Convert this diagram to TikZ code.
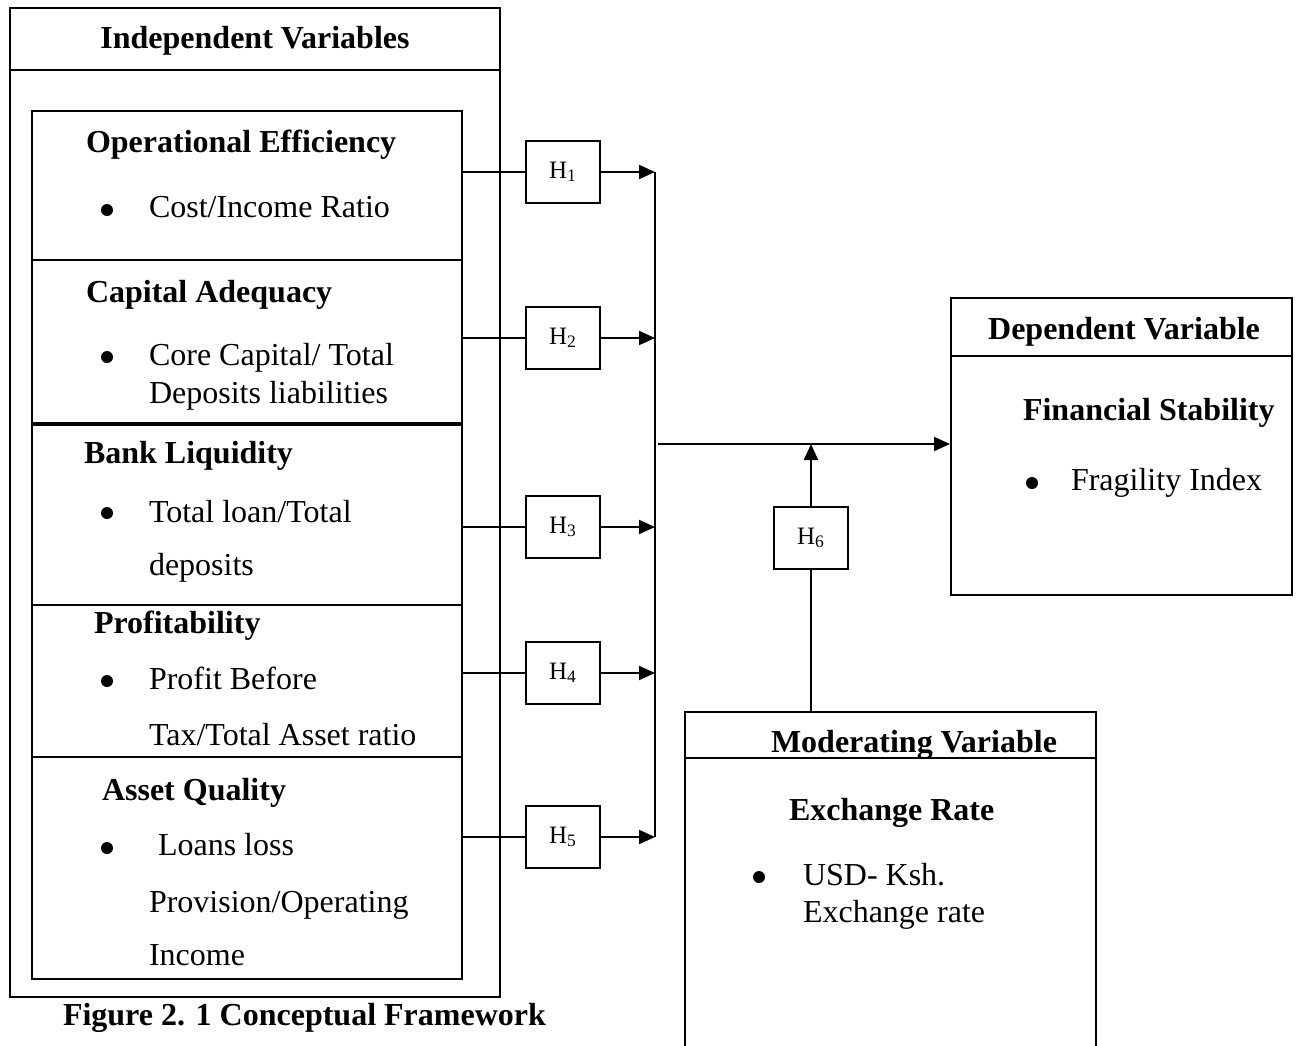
\documentclass[tikz,border=0pt]{standalone}
\usepackage{fontspec}
\setmainfont{Liberation Serif}
\usetikzlibrary{arrows.meta,fit}
\begin{document}
\begin{tikzpicture}[x=0.5pt,y=-0.5pt,
  line width=1pt,
  frame/.style={draw, line width=1pt, inner sep=0pt},
  txt/.style={anchor=base west, inner sep=0pt, font=\fontsize{16}{19}\selectfont},
  hd/.style={anchor=base west, inner sep=0pt, font=\fontsize{16}{19}\selectfont\bfseries},
  hdc/.style={anchor=base, inner sep=0pt, font=\fontsize{16}{19}\selectfont\bfseries},
  dot/.style={circle, fill=black, inner sep=0pt, minimum size=6pt},
  hbox/.style={draw, line width=0.8pt, inner sep=0pt, minimum width=37pt, minimum height=31pt, font=\fontsize{12.5}{14}\selectfont},
  arr/.style={-{Triangle[length=8pt,width=7pt]}, line width=1pt}
]
\useasboundingbox (0,0) rectangle (1301,1045);

% ---------- Independent variables ----------
\node[frame, fit={(10,8) (500,997)}] (outer) {};
\draw (10,70) -- (500,70);
\node[hdc] (indt) at (255,48) {Independent Variables};

\node[frame, fit={(32,111) (462,260)}] (sec1) {};
\node[frame, fit={(32,260) (462,423)}] (sec2) {};
\node[frame, fit={(32,423) (462,605)}] (sec3) {};
\node[frame, fit={(32,605) (462,757)}] (sec4) {};
\node[frame, fit={(32,757) (462,979)}] (sec5) {};
\draw[line width=1.6pt] (sec2.south west) -- (sec2.south east);

\node[hd] (t1) at (85,152) {Operational Efficiency};
\node[dot] (b1) at (107,210) {};
\node[txt] (t1a) at (148,217) {Cost/Income Ratio};

\node[hd] (t2) at (85,302) {Capital Adequacy};
\node[dot] (b2) at (107,357) {};
\node[txt] (t2a) at (148,365) {Core Capital/ Total};
\node[txt] (t2b) at (148,403) {Deposits liabilities};

\node[hd] (t3) at (83,463) {Bank Liquidity};
\node[dot] (b3) at (107,513) {};
\node[txt] (t3a) at (148,522) {Total loan/Total};
\node[txt] (t3b) at (148,575) {deposits};

\node[hd] (t4) at (93,633) {Profitability};
\node[dot] (b4) at (107,681) {};
\node[txt] (t4a) at (148,689) {Profit Before};
\node[txt] (t4b) at (148,745) {Tax/Total Asset ratio};

\node[hd] (t5) at (101,800) {Asset Quality};
\node[dot] (b5) at (107,848) {};
\node[txt] (t5a) at (157,855) {Loans loss};
\node[txt] (t5b) at (148,912) {Provision/Operating};
\node[txt] (t5c) at (148,965) {Income};

\node[hd] (cap) at (62,1025) {Figure 2. 1 Conceptual Framework};

% ---------- Hypothesis boxes ----------
\node[hbox] (h1) at (563,172) {H\textsubscript{1}};
\node[hbox] (h2) at (563,338) {H\textsubscript{2}};
\node[hbox] (h3) at (563,527) {H\textsubscript{3}};
\node[hbox] (h4) at (563,673) {H\textsubscript{4}};
\node[hbox] (h5) at (563,837) {H\textsubscript{5}};

\coordinate (busx) at (655,0);
\foreach \s/\h in {sec1/h1,sec2/h2,sec3/h3,sec4/h4,sec5/h5}{
  \draw (\s.east |- \h.west) -- (\h.west);
  \draw[arr] (\h.east) -- (busx |- \h.east);
}
\draw (busx |- h1.east) -- (busx |- h5.east);

% ---------- Dependent variable ----------
\node[frame, fit={(951,298) (1292,595)}] (dep) {};
\draw (951,356) -- (1292,356);
\node[hdc] (dept) at (1124,339) {Dependent Variable};
\node[hd] (t6) at (1022,420) {Financial Stability};
\node[dot] (b6) at (1032,483) {};
\node[txt] (t6a) at (1070,490) {Fragility Index};

\coordinate (bm) at (658,444);
\draw[arr] (bm) -- (bm -| dep.west);

% ---------- Moderating variable ----------
\draw (685,1050) -- (685,712) -- (1096,712) -- (1096,1050);
\draw (685,758) -- (1096,758);
\coordinate (modtop) at (811,712);
\node[hd] (modt) at (770,752) {Moderating Variable};
\node[hd] (t7) at (788,820) {Exchange Rate};
\node[dot] (b7) at (759,877) {};
\node[txt] (t7a) at (802,885) {USD- Ksh.};
\node[txt] (t7b) at (802,922) {Exchange rate};

\node[hbox] (h6) at (811,538) {H\textsubscript{6}};
\draw (modtop) -- (h6.south);
\draw[arr] (h6.north) -- (h6.north |- bm);
\end{tikzpicture}
\end{document}
